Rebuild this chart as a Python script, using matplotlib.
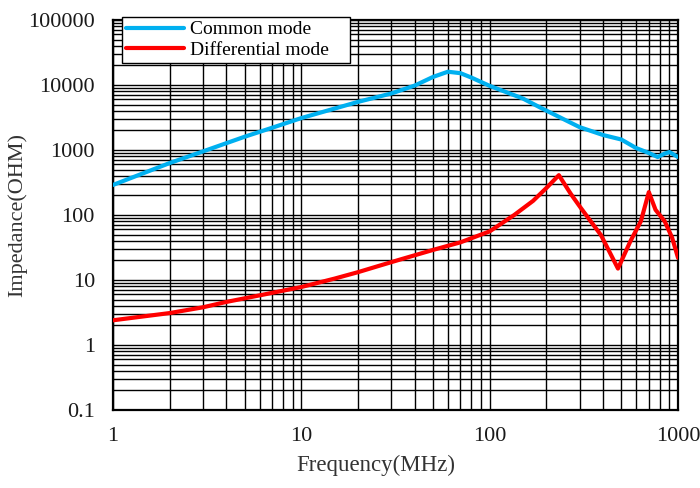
import matplotlib
matplotlib.use("Agg")
import matplotlib.pyplot as plt
from matplotlib.ticker import FixedLocator, FixedFormatter, NullFormatter

plt.rcParams['font.family'] = ['Liberation Serif', 'DejaVu Serif']

# values (MHz / Ohm)
cm_freq = [1, 2, 3, 5, 7, 10, 20, 30, 40, 50, 60, 70, 80, 100, 150, 187,
           300, 400, 500, 600, 700, 780, 850, 900, 1000]
cm_imp = [290, 630, 950, 1600, 2200, 3100, 5500, 7400, 9800, 13300, 16000,
          15200, 13000, 9700, 6200, 4450, 2250, 1700, 1450, 1070, 900, 780,
          880, 930, 780]

dm_freq = [1, 2, 3, 4, 6, 10, 15, 20, 26, 33, 50, 70, 100, 135, 170, 200,
           233, 270, 305, 390, 480, 560, 635, 700, 760, 850, 930, 1000]
dm_imp = [2.4, 3.1, 3.8, 4.6, 5.8, 7.8, 10.5, 13.2, 16.6, 20.4, 29, 38, 56,
          100, 165, 260, 410, 210, 128, 49, 15, 40, 80, 225, 120, 80, 45, 22]

x_ticks = [1, 10, 100, 1000]
x_labels = ["1", "10", "100", "1000"]
y_ticks = [0.1, 1, 10, 100, 1000, 10000, 100000]
y_labels = ["0.1", "1", "10", "100", "1000", "10000", "100000"]

fig = plt.figure(figsize=(7, 4.88), dpi=100)
ax = fig.add_axes([113 / 700, 1 - 410 / 488, 565 / 700, 390 / 488])

ax.plot(cm_freq, cm_imp, color='#00B0F0', lw=3, label='Common mode',
        solid_capstyle='round', solid_joinstyle='round', zorder=3)
ax.plot(dm_freq, dm_imp, color='#FF0000', lw=3, label='Differential mode',
        solid_capstyle='round', solid_joinstyle='round', zorder=3)

ax.set_xscale('log')
ax.set_yscale('log')
ax.set_xlim(1, 1000)
ax.set_ylim(0.1, 100000)

ax.xaxis.set_major_locator(FixedLocator(x_ticks))
ax.xaxis.set_major_formatter(FixedFormatter(x_labels))
ax.yaxis.set_major_locator(FixedLocator(y_ticks))
ax.yaxis.set_major_formatter(FixedFormatter(y_labels))
ax.xaxis.set_minor_formatter(NullFormatter())
ax.yaxis.set_minor_formatter(NullFormatter())

ax.grid(True, which='both', color='black', lw=1.0, zorder=1)
ax.tick_params(which='both', length=0, labelsize=16, colors='#1a1a1a')
ax.tick_params(axis='y', pad=13)
ax.tick_params(axis='x', pad=12)
for s in ax.spines.values():
    s.set_linewidth(1.6)

ax.set_xlabel("Frequency(MHz)", fontsize=16.5, color='#333333')
ax.xaxis.set_label_coords(0.465, -0.115)
ax.set_ylabel("Impedance(OHM)", fontsize=16, color='#333333')
ax.yaxis.set_label_coords(-0.152, 0.5)

leg = ax.legend(loc='upper left', bbox_to_anchor=(0.016, 0.878, 0.4035, 0.13),
                mode='expand', fontsize=14, frameon=True, fancybox=False,
                framealpha=1, edgecolor='black', borderaxespad=0,
                handlelength=3, handletextpad=0.3, labelspacing=0.15,
                borderpad=0.2)
leg.get_frame().set_linewidth(1.0)
leg.set_zorder(5)

fig.savefig("out.png", dpi=100)
